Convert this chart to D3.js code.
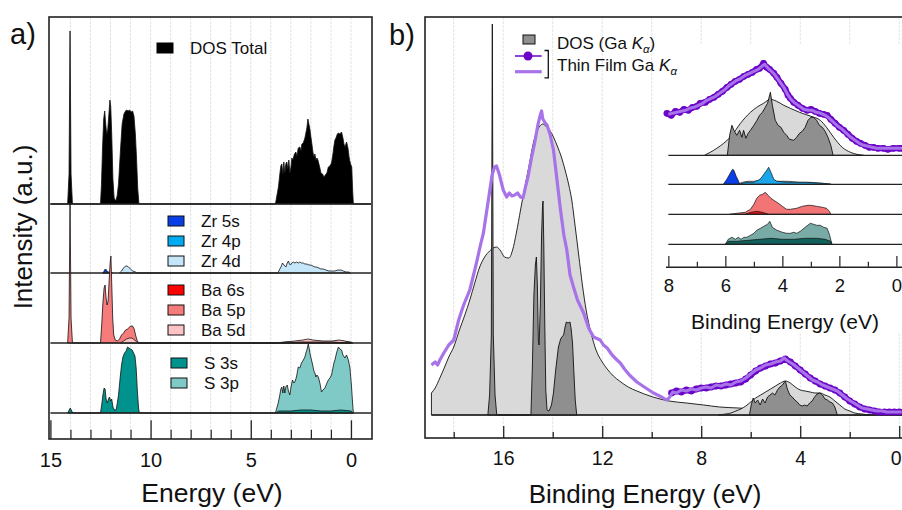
<!DOCTYPE html>
<html><head><meta charset="utf-8">
<script src="https://cdn.jsdelivr.net/npm/d3@7"></script>
<style>body{margin:0;background:#fff;}svg{display:block;font-family:"Liberation Sans",Arial,sans-serif;}</style>
</head><body><svg id="c" width="902" height="510"></svg>
<script>
// ---------------- DATA ----------------
// Panel a) partial DOS, [energy eV, intensity a.u.]
const aTicksMajor = [15, 10, 5, 0];
const aTicksMinor = [14, 13, 12, 11, 9, 8, 7, 6, 4, 3, 2, 1];
const aNames = ["DOS Total", "Zr 5s", "Zr 4p", "Zr 4d", "Ba 6s", "Ba 5p", "Ba 5d", "S 3s", "S 3p"];
const aOffsets = {S: 0, Ba: 70, Zr: 140, Total: 209};
const dosTotal = [[15.0,0],[14.14,0],[14.07,30],[14.02,173],[13.97,30],[13.9,0],
 [12.5,0],[12.45,20],[12.4,55],[12.34,85],[12.29,93],[12.24,80],[12.19,70],[12.14,74],[12.08,90],[12.03,104],[11.99,98],[11.94,70],[11.88,25],[11.82,6],[11.74,3],
 [11.67,8],[11.6,20],[11.5,55],[11.42,80],[11.33,90],[11.25,93],[11.2,94],[11.12,93],[11.05,94],[10.97,92],[10.9,93],[10.83,88],[10.76,70],[10.7,45],[10.64,15],[10.58,0],
 [3.77,0],[3.7,8],[3.62,17],[3.55,30],[3.5,38],[3.45,40],[3.4,30],[3.35,42],[3.3,31],[3.25,40],[3.2,42],[3.15,35],[3.1,44],[3.05,31],[3.0,36],[2.95,46],[2.9,44],[2.82,50],[2.75,52],[2.7,48],[2.63,56],[2.55,57],[2.5,53],[2.45,60],[2.38,61],[2.3,66],[2.25,71],[2.2,76],[2.15,85],[2.1,80],[2.05,75],[2.0,67],[1.95,60],[1.9,52],[1.85,47],[1.8,50],[1.75,44],[1.7,46],[1.65,44],[1.6,40],[1.55,36],[1.5,31],[1.42,30],[1.35,27],[1.28,29],[1.2,31],[1.13,37],[1.05,38],[0.97,41],[0.9,50],[0.85,58],[0.8,64],[0.75,66],[0.68,70],[0.63,71],[0.55,70],[0.47,72],[0.4,66],[0.35,60],[0.3,57],[0.22,62],[0.15,56],[0.08,45],[0.02,40],[-0.04,37],[-0.08,15],[-0.12,0],[-1.0,0]];
const zr5s = [[12.36,0],[12.3,3],[12.25,4],[12.2,3],[12.13,0]];
const zr4p = [[12.4,0],[12.3,1],[12.0,1],[11.9,0]];
const zr4d = [[11.55,0],[11.45,2],[11.35,5],[11.25,7],[11.18,7],[11.1,6],[11.0,4],[10.9,2],[10.75,1],[10.65,0],
 [3.65,0],[3.55,4],[3.47,7],[3.42,10],[3.38,9],[3.3,7],[3.25,6],[3.18,10],[3.12,12],[3.07,9],[3.02,8],[2.95,10],[2.88,11],[2.8,10],[2.72,11],[2.63,10],[2.55,11],[2.47,10],[2.38,10],[2.3,9],[2.2,9],[2.1,8],[2.0,8],[1.9,7],[1.8,6],[1.72,6],[1.6,5],[1.5,4],[1.38,4],[1.25,3],[1.1,2],[0.95,2],[0.8,2],[0.65,3],[0.5,3],[0.38,2],[0.25,1],[0.1,1],[0.03,0]];
const ba6s = [[3.5,0],[2.5,1],[1.0,1],[0.0,0]];
const ba5p = [[14.14,0],[14.07,25],[14.02,143],[13.97,25],[13.9,0],
 [12.5,0],[12.44,18],[12.38,40],[12.32,55],[12.27,58],[12.22,45],[12.17,38],[12.12,42],[12.07,62],[12.02,80],[11.98,87],[11.94,60],[11.89,25],[11.84,8],[11.76,3],[11.65,2],[11.55,4],[11.45,8],[11.35,10],[11.25,13],[11.15,14],[11.05,16],[10.97,17],[10.9,17],[10.82,14],[10.75,8],[10.68,3],[10.6,0],
 [3.7,0],[3.2,1],[2.6,1],[2.2,2],[1.5,1],[0.6,2],[0.0,1],[-0.1,0]];
const ba5d = [[11.5,0],[11.35,2],[11.2,4],[11.05,5],[10.95,5],[10.85,4],[10.75,2],[10.62,0],
 [3.8,0],[3.3,1],[2.8,2],[2.4,3],[2.15,4],[1.9,3],[1.4,2],[0.9,2],[0.6,3],[0.3,2],[-0.05,0]];
const s3s = [[14.14,0],[14.06,3],[14.01,5],[13.96,3],[13.88,0],
 [12.5,0],[12.44,8],[12.38,18],[12.32,25],[12.27,24],[12.22,14],[12.16,10],[12.1,14],[12.05,16],[12.0,12],[11.94,14],[11.88,6],[11.8,3],[11.72,3],[11.66,10],[11.6,18],[11.52,35],[11.45,48],[11.38,56],[11.3,60],[11.22,62],[11.15,66],[11.08,65],[11.0,64],[10.92,63],[10.85,60],[10.78,57],[10.72,45],[10.66,22],[10.6,5],[10.56,0],
 [3.77,0],[3.6,2],[3.0,2],[2.5,3],[2.0,3],[1.5,2],[1.0,2],[0.5,3],[0.0,2],[-0.12,0]];
const s3p = [[3.77,0],[3.7,5],[3.63,10],[3.55,18],[3.5,24],[3.45,26],[3.4,20],[3.35,27],[3.3,20],[3.25,26],[3.18,28],[3.12,22],[3.05,18],[3.0,25],[2.92,33],[2.85,30],[2.8,31],[2.72,36],[2.63,46],[2.55,45],[2.47,50],[2.4,52],[2.3,56],[2.25,60],[2.2,63],[2.13,69],[2.08,64],[2.03,58],[1.97,53],[1.9,47],[1.85,42],[1.8,40],[1.75,36],[1.7,38],[1.63,36],[1.55,30],[1.47,21],[1.4,23],[1.3,25],[1.22,29],[1.13,33],[1.05,35],[0.97,38],[0.9,45],[0.85,50],[0.8,53],[0.72,60],[0.63,66],[0.55,64],[0.47,63],[0.4,58],[0.3,55],[0.22,58],[0.13,53],[0.05,45],[-0.03,26],[-0.08,10],[-0.12,0]];

// Panel b) Ga K-alpha
const bTicksMajor = [16, 12, 8, 4, 0];
const bTicksMinor = [18, 14, 10, 6, 2];
const bNames = ["DOS (Ga ", "Thin Film Ga "];
const bGreyBroad = [[18.9,22],[18.75,27],[18.56,37],[18.4,46],[18.2,58],[18.0,68],[17.77,85],[17.55,100],[17.35,115],[17.15,132],[16.95,148],[16.75,158],[16.55,164],[16.4,167],[16.27,168],[16.1,164],[15.95,158],[15.77,157],[15.62,165],[15.47,182],[15.3,205],[15.15,225],[14.95,250],[14.8,270],[14.66,282],[14.52,289],[14.39,291],[14.25,288],[14.1,284],[13.97,278],[13.8,268],[13.65,258],[13.5,245],[13.35,230],[13.23,215],[13.1,190],[12.95,160],[12.8,130],[12.65,105],[12.45,82],[12.25,65],[12.0,53],[11.8,46],[11.55,39],[11.3,34],[10.95,28],[10.6,24],[10.3,21],[9.95,18],[9.3,14],[8.6,12],[7.9,10],[7.26,8],[6.5,7],[5.8,6],[5.0,5],[4.2,4],[3.5,3],[2.8,2],[2.2,1],[1.8,0],[-0.5,0]];
const bGreyValence = [[7.3,0],[7.0,1],[6.8,2],[6.6,4],[6.4,6],[6.2,9],[6.0,13],[5.8,17],[5.6,20],[5.4,23],[5.2,26],[5.0,29],[4.8,32],[4.6,34],[4.4,32],[4.2,28],[4.0,25],[3.8,24],[3.6,23],[3.4,22],[3.2,22],[3.0,20],[2.8,18],[2.6,14],[2.4,10],[2.2,6],[2.0,4],[1.8,2],[1.5,1],[1.2,0]];
const bDark = [[16.62,0],[16.55,20],[16.48,80],[16.44,391],[16.4,80],[16.33,20],[16.26,0],
 [14.88,0],[14.82,50],[14.76,120],[14.7,150],[14.66,158],[14.62,130],[14.58,75],[14.55,70],[14.5,110],[14.45,180],[14.41,210],[14.39,214],[14.36,170],[14.32,90],[14.28,25],[14.23,5],[14.15,4],[14.05,10],[13.97,22],[13.88,45],[13.77,68],[13.68,76],[13.63,78],[13.56,80],[13.5,88],[13.45,93],[13.38,92],[13.3,93],[13.25,85],[13.2,72],[13.14,40],[13.09,15],[13.03,0]];
const bDarkValence = [[6.05,0],[5.98,10],[5.9,17],[5.82,12],[5.72,15],[5.62,10],[5.52,16],[5.42,12],[5.32,18],[5.22,20],[5.12,22],[5.02,20],[4.92,25],[4.82,28],[4.72,30],[4.6,34],[4.52,26],[4.42,20],[4.32,18],[4.22,15],[4.12,13],[4.02,10],[3.92,9],[3.82,10],[3.72,9],[3.62,12],[3.52,14],[3.42,18],[3.32,21],[3.2,22],[3.1,20],[3.0,16],[2.9,15],[2.8,13],[2.7,12],[2.6,8],[2.5,0]];
const bFilmLine = [[18.9,50],[18.75,53],[18.65,50],[18.56,55],[18.4,62],[18.2,70],[18.0,75],[17.8,95],[17.6,110],[17.35,125],[17.1,150],[16.9,172],[16.8,182],[16.6,215],[16.45,240],[16.35,248],[16.27,249],[16.15,240],[16.0,225],[15.86,218],[15.75,222],[15.65,219],[15.53,220],[15.42,222],[15.3,218],[15.2,217],[15.1,228],[15.0,238],[14.85,258],[14.73,272],[14.6,290],[14.5,300],[14.45,304],[14.4,296],[14.3,292],[14.23,290],[14.1,280],[13.97,265],[13.85,240],[13.7,208],[13.55,180],[13.43,165],[13.3,140],[13.16,128],[13.0,115],[12.75,102],[12.55,87],[12.35,78],[12.08,75],[11.95,70],[11.8,67],[11.6,60],[11.4,55],[11.27,52],[11.1,46],[10.9,40],[10.6,33],[10.3,28],[9.93,22],[9.6,18],[9.4,15],[9.3,17],
 [9.15,23],[9.0,22],[8.8,25],[8.6,24],[8.4,26],[8.2,25],[8.0,27],[7.8,28],[7.6,27],[7.4,30],[7.2,29],[7.0,31],[6.8,30],[6.6,33],[6.4,34],[6.2,37],[6.0,41],[5.8,45],[5.6,47],[5.4,50],[5.2,51],[5.0,53],[4.8,54],[4.65,57],[4.5,54],[4.3,51],[4.1,47],[3.9,43],[3.7,39],[3.5,35],[3.3,33],[3.1,30],[2.9,28],[2.7,26],[2.5,24],[2.3,20],[2.1,16],[1.9,13],[1.7,10],[1.5,7],[1.3,6],[1.1,5],[0.9,4],[0.7,4],[0.5,3],[0.3,3],[0.1,3],[-0.1,3]];
const bFilmMarkers = [[9.2,22],[9.0,24],[8.8,23],[8.6,25],[8.4,24],[8.2,26],[8.0,27],[7.8,27],[7.6,28],[7.4,29],[7.2,29],[7.0,30],[6.8,31],[6.6,32],[6.4,33],[6.2,36],[6.0,40],[5.8,44],[5.6,47],[5.4,49],[5.2,51],[5.0,52],[4.8,54],[4.6,56],[4.4,53],[4.2,49],[4.0,45],[3.8,41],[3.6,37],[3.4,34],[3.2,31],[3.0,29],[2.8,27],[2.6,25],[2.4,22],[2.2,18],[2.0,14],[1.8,11],[1.6,8],[1.4,6],[1.2,5],[1.0,4],[0.8,3],[0.6,3],[0.4,3],[0.2,3],[0.0,3],[-0.2,3]];

// Inset (valence band)
const iTicksMajor = [8, 6, 4, 2, 0];
const iTicksMinor = [7, 5, 3, 1];
const iOffsets = {S: 0, Ba: 30, Zr: 60, Ga: 89};
const iGreyBroad = [[6.73,0],[6.53,3],[6.3,7],[6.06,12],[5.77,20],[5.47,32],[5.12,43],[4.9,48],[4.66,52],[4.42,56],[4.2,54],[3.95,50],[3.72,47],[3.4,43],[3.0,39],[2.67,35],[2.45,28],[2.2,18],[1.9,8],[1.61,3],[1.15,0]];
const iDark = [[5.93,0],[5.85,20],[5.77,30],[5.7,25],[5.6,20],[5.5,25],[5.42,18],[5.36,25],[5.28,17],[5.2,22],[5.12,25],[5.0,30],[4.89,35],[4.8,40],[4.7,43],[4.6,48],[4.52,52],[4.42,63],[4.35,50],[4.25,35],[4.15,30],[4.05,28],[3.95,23],[3.85,20],[3.75,16],[3.6,15],[3.5,18],[3.4,22],[3.3,24],[3.2,28],[3.1,35],[3.0,38],[2.9,38],[2.8,35],[2.7,30],[2.6,28],[2.5,24],[2.4,18],[2.3,10],[2.22,0]];
const iFilmMarkers = [[8.05,42],[7.9,40],[7.75,44],[7.6,43],[7.45,46],[7.3,45],[7.15,48],[7.0,49],[6.88,52],[6.7,53],[6.55,56],[6.4,58],[6.25,61],[6.1,64],[5.94,68],[5.8,71],[5.65,74],[5.5,76],[5.35,79],[5.2,81],[5.05,83],[4.9,86],[4.8,87],[4.66,92],[4.55,88],[4.45,86],[4.3,82],[4.19,78],[4.05,72],[3.9,66],[3.8,60],[3.72,57],[3.6,53],[3.45,50],[3.3,47],[3.13,45],[3.0,46],[2.85,44],[2.7,42],[2.55,41],[2.43,40],[2.3,36],[2.15,32],[2.0,28],[1.85,25],[1.7,21],[1.55,17],[1.4,14],[1.26,12],[1.1,10],[0.95,8],[0.8,8],[0.65,7],[0.45,7],[0.3,6],[0.1,7],[-0.1,7],[-0.2,7]];
const iFilmLine = [[8.0,41],[7.85,42],[7.7,43],[7.55,44],[7.4,45],[7.25,47],[7.1,48],[6.95,50],[6.8,52],[6.65,55],[6.5,57],[6.35,59],[6.2,62],[6.05,65],[5.9,69],[5.75,72],[5.6,75],[5.45,77],[5.3,80],[5.15,82],[5.0,84],[4.85,86],[4.72,89],[4.62,91],[4.5,87],[4.38,84],[4.25,80],[4.1,74],[3.95,68],[3.82,61],[3.7,56],[3.55,52],[3.4,49],[3.25,46],[3.1,45],[2.95,45],[2.8,43],[2.65,42],[2.5,40],[2.35,37],[2.2,33],[2.05,29],[1.9,26],[1.75,22],[1.6,18],[1.45,15],[1.3,12],[1.15,10],[1.0,9],[0.85,8],[0.7,7],[0.5,7],[0.3,7],[0.1,7],[-0.2,7]];
const iZr5s = [[6.07,0],[5.95,5],[5.85,10],[5.75,15],[5.7,14],[5.62,8],[5.55,4],[5.5,0]];
const iZr4p = [[5.5,0],[5.3,2],[5.0,2],[4.95,3],[4.85,4],[4.75,6],[4.65,10],[4.55,14],[4.48,17],[4.4,12],[4.3,5],[4.2,3],[3.8,2],[3.2,2],[2.6,1],[2.3,0]];
const iZr4d = [[5.6,0],[5.4,2],[5.2,3],[5.0,3],[4.6,4],[4.2,3],[3.8,3],[3.4,2],[3.0,2],[2.6,1],[2.3,0]];
const iBa5p = [[5.85,0],[5.6,1],[5.3,2],[5.12,5],[5.0,10],[4.9,16],[4.8,19],[4.7,20],[4.6,22],[4.5,19],[4.4,16],[4.3,14],[4.19,12],[4.0,8],[3.85,5],[3.72,5],[3.5,6],[3.3,8],[3.1,9],[3.0,9],[2.8,8],[2.6,7],[2.45,6],[2.35,3],[2.3,0]];
const iBa6s = [[5.3,0],[5.1,2],[4.9,3],[4.7,2],[4.5,0]];
const iS3p = [[6.0,0],[5.9,5],[5.77,7],[5.65,5],[5.55,7],[5.45,5],[5.35,7],[5.25,7],[5.12,9],[5.0,11],[4.9,14],[4.77,16],[4.65,18],[4.52,20],[4.44,23],[4.35,17],[4.19,14],[4.0,12],[3.85,11],[3.72,11],[3.6,12],[3.5,11],[3.37,13],[3.2,17],[3.02,21],[2.9,20],[2.8,19],[2.67,19],[2.55,17],[2.43,16],[2.35,10],[2.26,0]];
const iS3s = [[6.0,0],[5.9,3],[5.6,3],[5.2,4],[4.8,5],[4.4,6],[4.0,5],[3.6,5],[3.2,6],[2.8,6],[2.5,5],[2.3,3],[2.26,0]];

// ---------------- DRAWING ----------------
const svg = d3.select('#c');
const FRAME = '#222';
const C = {total:'#000', zr5s:'#0a3ee8', zr4p:'#00aaf0', zr4d:'#c5e6f8', ba6s:'#ff0000', ba5p:'#f67b7b', ba5d:'#fbc3c3', s3s:'#00938d', s3p:'#7fcac6',
  light:'#d9d9d9', dark:'#8f8f8f', filmDark:'#6a05c9', filmLight:'#a873e8', iS3p:'#78aaa6', iS3s:'#11605c'};

function areaGen(x, y, off, curve){
  return d3.area().x(d=>x(d[0])).y0(y(off)).y1(d=>y(off+d[1])).curve(curve||d3.curveLinear);
}
function drawArea(g, data, x, y, off, fill, sw, curve){
  g.append('path').datum(data).attr('d', areaGen(x,y,off,curve))
   .attr('fill', fill).attr('stroke', '#111').attr('stroke-width', sw==null?0.8:sw).attr('stroke-linejoin','round');
}
function baseline(g, x, y, off, e0, e1, w){
  g.append('line').attr('x1', x(e0)).attr('x2', x(e1)).attr('y1', y(off)).attr('y2', y(off))
   .attr('stroke', '#222').attr('stroke-width', w||1.3);
}

// ===== Panel a =====
const xA = d3.scaleLinear().domain([15.07, -1.05]).range([49, 372]);
const yA = d3.scaleLinear().domain([-26, 396]).range([439, 17]);
const gA = svg.append('g');
gA.selectAll('line.grid').data(d3.range(0, 15)).join('line').attr('class','grid')
  .attr('x1', d=>xA(d)).attr('x2', d=>xA(d)).attr('y1', yA.range()[1]).attr('y2', yA.range()[0])
  .attr('stroke', '#e4e4e4').attr('stroke-width', 1).attr('stroke-dasharray','3,1');

drawArea(gA, dosTotal, xA, yA, aOffsets.Total, C.total, 0.8);
baseline(gA, xA, yA, aOffsets.Total, 15, -1);
drawArea(gA, zr4d, xA, yA, aOffsets.Zr, C.zr4d);
drawArea(gA, zr4p, xA, yA, aOffsets.Zr, C.zr4p);
drawArea(gA, zr5s, xA, yA, aOffsets.Zr, C.zr5s);
baseline(gA, xA, yA, aOffsets.Zr, 15, -1);
drawArea(gA, ba5p, xA, yA, aOffsets.Ba, C.ba5p);
drawArea(gA, ba5d, xA, yA, aOffsets.Ba, C.ba5d);
drawArea(gA, ba6s, xA, yA, aOffsets.Ba, C.ba6s);
baseline(gA, xA, yA, aOffsets.Ba, 15, -1);
drawArea(gA, s3p, xA, yA, aOffsets.S, C.s3p);
drawArea(gA, s3s, xA, yA, aOffsets.S, C.s3s);
baseline(gA, xA, yA, aOffsets.S, 15, -1);

// legend a
function swatch(g, x, y, fill, stroke){
  g.append('rect').attr('x', x).attr('y', y).attr('width', 16).attr('height', 10)
   .attr('fill', fill).attr('stroke', stroke||'#111').attr('stroke-width', 1);
}
function label(g, x, y, txt, size){
  return g.append('text').attr('x', x).attr('y', y).attr('font-size', size||17).attr('fill','#111').text(txt);
}
swatch(gA, 157, 43, C.total, C.total); label(gA, 190, 54, aNames[0]);
const legA = [
  {n:aNames[1], c:C.zr5s, x:168, y:216}, {n:aNames[2], c:C.zr4p, x:168, y:236}, {n:aNames[3], c:C.zr4d, x:168, y:256},
  {n:aNames[4], c:C.ba6s, x:168, y:285}, {n:aNames[5], c:C.ba5p, x:168, y:305}, {n:aNames[6], c:C.ba5d, x:168, y:325},
  {n:aNames[7], c:C.s3s, x:171, y:358}, {n:aNames[8], c:C.s3p, x:171, y:378}];
legA.forEach(d=>{ swatch(gA, d.x, d.y, d.c); label(gA, d.x+33, d.y+11, d.n); });

// axes a
gA.append('rect').attr('x', 49).attr('y', 17).attr('width', 323).attr('height', 422)
  .attr('fill','none').attr('stroke', FRAME).attr('stroke-width', 1.6);
const axA = gA.append('g').attr('transform','translate(0,439)')
  .call(d3.axisBottom(xA).tickValues(aTicksMajor).tickSizeInner(-18.7).tickSizeOuter(0).tickPadding(13.8).tickFormat(d3.format('d')));
axA.select('.domain').remove();
axA.selectAll('text').attr('font-size', 20).attr('fill','#111').attr('font-family','"Liberation Sans",Arial,sans-serif');
axA.selectAll('line').attr('stroke', FRAME).attr('stroke-width', 1.3);
const axA2 = gA.append('g').attr('transform','translate(0,439)')
  .call(d3.axisBottom(xA).tickValues(aTicksMinor).tickSizeInner(-9.3).tickSizeOuter(0).tickFormat(''));
axA2.select('.domain').remove();
axA2.selectAll('line').attr('stroke', FRAME).attr('stroke-width', 1.2);

svg.append('text').attr('x', 10).attr('y', 44).attr('font-size', 29).attr('fill','#111').text('a)');
svg.append('text').attr('transform','translate(32,227) rotate(-90)').attr('text-anchor','middle')
  .attr('font-size', 26).attr('fill','#111').text('Intensity (a.u.)');
svg.append('text').attr('x', 212).attr('y', 502).attr('text-anchor','middle').attr('font-size', 26.5).attr('fill','#111').text('Energy (eV)');

// ===== Panel b =====
const xB = d3.scaleLinear().domain([19.16, -0.5]).range([425, 911.6]);
const yB = d3.scaleLinear().domain([-23, 398]).range([438, 17]);
const gB = svg.append('g');
gB.selectAll('line.grid').data([18,16,14,12,10,8,6,4,2,0]).join('line').attr('class','grid')
  .attr('x1', d=>xB(d)).attr('x2', d=>xB(d)).attr('y1', 17).attr('y2', 438)
  .attr('stroke', '#e4e4e4').attr('stroke-width', 1).attr('stroke-dasharray','3,1');

drawArea(gB, bGreyBroad, xB, yB, 0, C.light, 0.9, d3.curveMonotoneX);
drawArea(gB, bDark, xB, yB, 0, C.dark, 0.9);
drawArea(gB, bGreyValence, xB, yB, 0, C.light, 0.9, d3.curveMonotoneX);
drawArea(gB, bDarkValence, xB, yB, 0, C.dark, 0.9);
baseline(gB, xB, yB, 0, 18.9, -0.5, 1.4);

const lineB = d3.line().x(d=>xB(d[0])).y(d=>yB(d[1]));
gB.append('path').datum(bFilmMarkers).attr('d', lineB).attr('fill','none').attr('stroke', C.filmDark).attr('stroke-width', 6).attr('stroke-linejoin','round');
gB.selectAll('circle.fm').data(bFilmMarkers).join('circle').attr('class','fm')
  .attr('cx', d=>xB(d[0])).attr('cy', d=>yB(d[1])).attr('r', 3.4).attr('fill', C.filmDark);
gB.append('path').datum(bFilmLine).attr('d', lineB).attr('fill','none').attr('stroke', C.filmLight).attr('stroke-width', 3.2).attr('stroke-linejoin','round');

// inset
const xI = d3.scaleLinear().domain([8.1, -0.25]).range([665.5, 903.5]);
const yI = d3.scaleLinear().domain([0, 100]).range([244.3, 144.3]);
const gI = svg.append('g');
gI.append('rect').attr('x', 656).attr('y', 44).attr('width', 250).attr('height', 288).attr('fill', '#fff');
drawArea(gI, iGreyBroad, xI, yI, iOffsets.Ga, C.light, 0.9, d3.curveMonotoneX);
drawArea(gI, iDark, xI, yI, iOffsets.Ga, C.dark, 0.9);
baseline(gI, xI, yI, iOffsets.Ga, 8, -0.25);
const lineI = d3.line().x(d=>xI(d[0])).y(d=>yI(iOffsets.Ga + d[1]));
gI.append('path').datum(iFilmMarkers).attr('d', lineI).attr('fill','none').attr('stroke', C.filmDark).attr('stroke-width', 6).attr('stroke-linejoin','round');
gI.selectAll('circle.fm').data(iFilmMarkers).join('circle').attr('class','fm')
  .attr('cx', d=>xI(d[0])).attr('cy', d=>yI(iOffsets.Ga + d[1])).attr('r', 3.4).attr('fill', C.filmDark);
gI.append('path').datum(iFilmLine).attr('d', lineI).attr('fill','none').attr('stroke', C.filmLight).attr('stroke-width', 3).attr('stroke-linejoin','round');

drawArea(gI, iZr4d, xI, yI, iOffsets.Zr, C.zr4d, 0.7);
drawArea(gI, iZr4p, xI, yI, iOffsets.Zr, '#1aa6e8', 0.7);
drawArea(gI, iZr5s, xI, yI, iOffsets.Zr, C.zr5s, 0.7);
baseline(gI, xI, yI, iOffsets.Zr, 8, -0.25);
drawArea(gI, iBa5p, xI, yI, iOffsets.Ba, '#f27474', 0.7);
drawArea(gI, iBa6s, xI, yI, iOffsets.Ba, '#e01010', 0.7);
baseline(gI, xI, yI, iOffsets.Ba, 8, -0.25);
drawArea(gI, iS3p, xI, yI, iOffsets.S, C.iS3p, 0.7);
drawArea(gI, iS3s, xI, yI, iOffsets.S, C.iS3s, 0.7);
baseline(gI, xI, yI, iOffsets.S, 8, -0.25);

const axI = gI.append('g').attr('transform','translate(0,266.7)')
  .call(d3.axisBottom(xI).tickValues(iTicksMajor).tickSizeInner(-10.7).tickSizeOuter(0).tickPadding(12.5).tickFormat(d3.format('d')));
axI.select('.domain').attr('stroke', FRAME).attr('stroke-width', 1.4);
axI.selectAll('text').attr('font-size', 18.5).attr('fill','#111').attr('font-family','"Liberation Sans",Arial,sans-serif');
axI.selectAll('line').attr('stroke', FRAME).attr('stroke-width', 1.2);
const axI2 = gI.append('g').attr('transform','translate(0,266.7)')
  .call(d3.axisBottom(xI).tickValues(iTicksMinor).tickSizeInner(-5).tickSizeOuter(0).tickFormat(''));
axI2.select('.domain').remove();
axI2.selectAll('line').attr('stroke', FRAME).attr('stroke-width', 1.2);
gI.append('text').attr('x', 785).attr('y', 329).attr('text-anchor','middle').attr('font-size', 21).attr('fill','#111').text('Binding Energy (eV)');

// legend b
const gL = svg.append('g');
gL.append('rect').attr('x', 523).attr('y', 35).attr('width', 12).attr('height', 9).attr('fill', C.dark).attr('stroke','#111').attr('stroke-width',1);
function kalpha(sel, prefix, suffix){
  sel.append('tspan').text(prefix);
  sel.append('tspan').attr('font-style','italic').text('K');
  sel.append('tspan').attr('font-style','italic').attr('font-size', 11.5).attr('dy', 4).text('α');
  if (suffix) sel.append('tspan').attr('dy', -4).text(suffix);
}
kalpha(gL.append('text').attr('x', 557).attr('y', 48.5).attr('font-size', 17).attr('fill','#111'), bNames[0], ')');
gL.append('line').attr('x1', 515).attr('x2', 541.7).attr('y1', 56).attr('y2', 56).attr('stroke', C.filmDark).attr('stroke-width', 1.5);
gL.append('circle').attr('cx', 528).attr('cy', 56).attr('r', 4.5).attr('fill', C.filmDark);
gL.append('line').attr('x1', 515).attr('x2', 541.7).attr('y1', 71.7).attr('y2', 71.7).attr('stroke', C.filmLight).attr('stroke-width', 3.2);
gL.append('path').attr('d', 'M544.5,50.5H548.3V77.8H544.5').attr('fill','none').attr('stroke','#111').attr('stroke-width', 1.3);
kalpha(gL.append('text').attr('x', 557).attr('y', 70.5).attr('font-size', 17).attr('fill','#111'), bNames[1], '');

// axes b
gB.append('rect').attr('x', 425).attr('y', 17).attr('width', 500).attr('height', 421)
  .attr('fill','none').attr('stroke', FRAME).attr('stroke-width', 1.6);
const axB = svg.append('g').attr('transform','translate(0,438)')
  .call(d3.axisBottom(xB).tickValues(bTicksMajor).tickSizeInner(-12).tickSizeOuter(0).tickPadding(13.2).tickFormat(d3.format('d')));
axB.select('.domain').remove();
axB.selectAll('text').attr('font-size', 19.5).attr('fill','#111').attr('font-family','"Liberation Sans",Arial,sans-serif')
  .attr('dx', d => d === 0 ? -3.5 : 0);
axB.selectAll('line').attr('stroke', FRAME).attr('stroke-width', 1.3);
const axB2 = svg.append('g').attr('transform','translate(0,438)')
  .call(d3.axisBottom(xB).tickValues(bTicksMinor).tickSizeInner(-6).tickSizeOuter(0).tickFormat(''));
axB2.select('.domain').remove();
axB2.selectAll('line').attr('stroke', FRAME).attr('stroke-width', 1.3);

svg.append('text').attr('x', 389).attr('y', 45).attr('font-size', 29).attr('fill','#111').text('b)');
svg.append('text').attr('x', 645).attr('y', 503).attr('text-anchor','middle').attr('font-size', 26).attr('fill','#111').text('Binding Energy (eV)');
</script></body></html>
